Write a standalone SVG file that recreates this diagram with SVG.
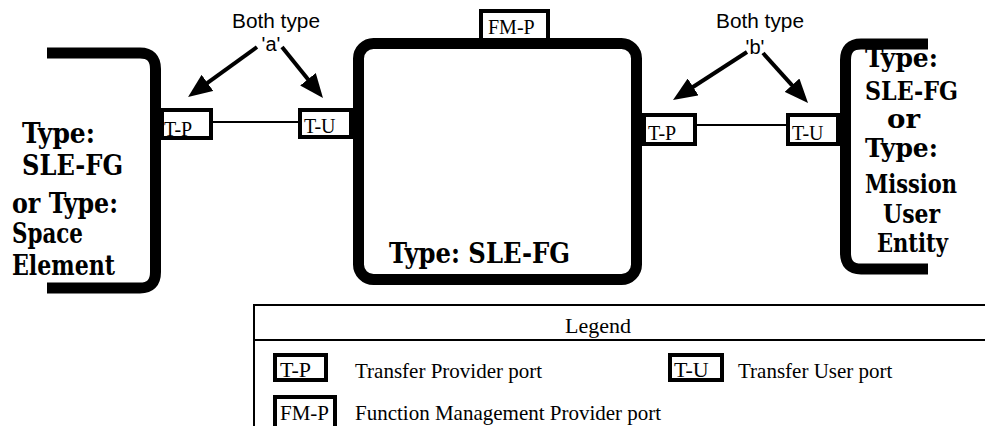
<svg xmlns="http://www.w3.org/2000/svg" width="985" height="426" viewBox="0 0 985 426">
<style>
.bracket{fill:none;stroke:#000;stroke-width:11}
.port{fill:#fff;stroke:#000;stroke-width:4}
.pt{font-family:"Liberation Serif","Times New Roman",serif;font-size:20px;fill:#000}
.bold{font-family:"DejaVu Serif","Liberation Serif",serif;font-weight:bold;fill:#000}
.lbl{font-family:"Liberation Sans",Arial,sans-serif;font-size:20px;fill:#000}
.leg{font-family:"Liberation Serif","Times New Roman",serif;font-size:21px;fill:#000}
.conn{stroke:#000;stroke-width:2;fill:none}
.arr{stroke:#000;stroke-width:4;fill:none;marker-end:url(#ah)}
</style>
<defs>
<marker id="ah" markerUnits="userSpaceOnUse" markerWidth="24" markerHeight="20" refX="9" refY="10" orient="auto">
<path d="M0,0 L24,10 L0,20 z" fill="#000"/>
</marker>
</defs>
<rect width="985" height="426" fill="#fff"/>

<g id="left-entity">
<path class="bracket" d="M47,53 H140 Q155.5,53 155.5,69 V272 Q155.5,288 140,288 H47"/>
<g class="bold" font-size="27">
<text x="22" y="143" textLength="73" lengthAdjust="spacingAndGlyphs">Type:</text>
<text x="22" y="175" textLength="101" lengthAdjust="spacingAndGlyphs">SLE-FG</text>
<text x="12" y="213" textLength="106" lengthAdjust="spacingAndGlyphs">or Type:</text>
<text x="12" y="243" textLength="71" lengthAdjust="spacingAndGlyphs">Space</text>
<text x="12" y="275" textLength="103" lengthAdjust="spacingAndGlyphs">Element</text>
</g>
</g>

<g id="middle-fg">
<text class="pt" x="488" y="34">FM-P</text>
<rect x="481" y="11" width="67" height="29" fill="none" stroke="#000" stroke-width="4"/>
<rect x="358.5" y="43.5" width="278" height="236" rx="15" fill="#fff" stroke="#000" stroke-width="11"/>
<text class="bold" x="389" y="263" font-size="27" textLength="181" lengthAdjust="spacingAndGlyphs">Type: SLE-FG</text>
</g>

<g id="right-entity">
<path class="bracket" d="M928,44 H861 Q845.5,44 845.5,60 V253 Q845.5,269 861,269 H928"/>
<g class="bold" font-size="26">
<text x="865" y="67" textLength="73" lengthAdjust="spacingAndGlyphs">Type:</text>
<text x="865" y="100" textLength="93" lengthAdjust="spacingAndGlyphs">SLE-FG</text>
<text x="887" y="128" textLength="33" lengthAdjust="spacingAndGlyphs">or</text>
<text x="865" y="157" textLength="73" lengthAdjust="spacingAndGlyphs">Type:</text>
<text x="865" y="193" textLength="92" lengthAdjust="spacingAndGlyphs">Mission</text>
<text x="883" y="223" textLength="57" lengthAdjust="spacingAndGlyphs">User</text>
<text x="877" y="252" textLength="71" lengthAdjust="spacingAndGlyphs">Entity</text>
</g>
</g>

<g id="port-a-tp">
<rect class="port" x="162" y="110" width="49" height="28"/>
<text class="pt" x="164" y="136">T-P</text>
</g>
<g id="port-a-tu">
<rect class="port" x="300" y="110" width="51" height="27"/>
<text class="pt" x="304" y="133">T-U</text>
</g>
<g id="port-b-tp">
<rect class="port" x="644" y="115" width="51" height="29"/>
<text class="pt" x="648" y="140">T-P</text>
</g>
<g id="port-b-tu">
<rect class="port" x="788" y="115" width="50" height="29"/>
<text class="pt" x="792" y="140">T-U</text>
</g>

<g id="label-a">
<text class="lbl" x="276" y="28" text-anchor="middle" textLength="88" lengthAdjust="spacingAndGlyphs">Both type</text>
<text class="lbl" x="271" y="51" text-anchor="middle">'a'</text>
</g>
<g id="label-b">
<text class="lbl" x="760" y="28" text-anchor="middle" textLength="88" lengthAdjust="spacingAndGlyphs">Both type</text>
<text class="lbl" x="755" y="54" text-anchor="middle">'b'</text>
</g>

<g id="connectors">
<line class="conn" x1="213" y1="122" x2="298" y2="122"/>
<line class="conn" x1="697" y1="125" x2="786" y2="125"/>
<line class="arr" x1="257" y1="47" x2="200.2" y2="88.2"/>
<line class="arr" x1="282" y1="47" x2="313.6" y2="86.3"/>
<line class="arr" x1="747" y1="52" x2="685.6" y2="91.8"/>
<line class="arr" x1="763" y1="53" x2="798" y2="91.9"/>
</g>

<g id="legend">
<path d="M990,305 H254 V430" fill="none" stroke="#000" stroke-width="2"/>
<line x1="254" y1="340" x2="990" y2="340" stroke="#000" stroke-width="2"/>
<text class="leg" x="598" y="333" text-anchor="middle" style="font-size:22px">Legend</text>
<rect class="port" x="275" y="355" width="51" height="25"/>
<text class="leg" x="280" y="377" style="font-size:22px">T-P</text>
<text class="leg" x="355" y="378">Transfer Provider port</text>
<rect class="port" x="670" y="355" width="52" height="25"/>
<text class="leg" x="674" y="377" style="font-size:22px">T-U</text>
<text class="leg" x="738" y="378">Transfer User port</text>
<rect class="port" x="275" y="397" width="60" height="35"/>
<text class="leg" x="280" y="420">FM-P</text>
<text class="leg" x="355" y="420">Function Management Provider port</text>
</g>
</svg>
